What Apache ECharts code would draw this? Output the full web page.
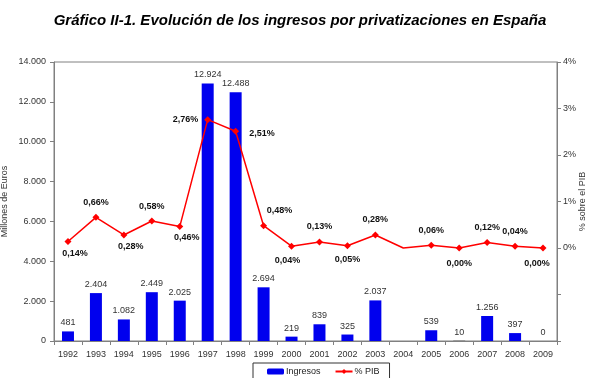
<!DOCTYPE html>
<html>
<head>
<meta charset="utf-8">
<script src="https://cdn.jsdelivr.net/npm/echarts@6/dist/echarts.min.js"></script>
<style>
html,body{margin:0;padding:0;background:#fff;}
#chart{width:600px;height:378px;}
</style>
</head>
<body>
<div id="chart"></div>
<script>
const years = ['1992','1993','1994','1995','1996','1997','1998','1999','2000','2001','2002','2003','2004','2005','2006','2007','2008','2009'];
const ingresos = [481, 2404, 1082, 2449, 2025, 12924, 12488, 2694, 219, 839, 325, 2037, null, 539, 10, 1256, 397, 0];
const pctPIB = [0.14, 0.66, 0.28, 0.58, 0.46, 2.76, 2.51, 0.48, 0.04, 0.13, 0.05, 0.28, 0.00, 0.06, 0.00, 0.12, 0.04, 0.00];
const pctLabelShown = [true,true,true,true,true,true,true,true,true,true,true,true,false,true,true,true,true,true];
const leftTicks = [0, 2000, 4000, 6000, 8000, 10000, 12000, 14000];
const rightTicks = [-2, -1, 0, 1, 2, 3, 4];

const fmtThousands = v => String(v).replace(/\B(?=(\d{3})+(?!\d))/g, '.');
const fmtPct = v => v.toFixed(2).replace('.', ',') + '%';

// label placement (layout only)
const labelLayout = [
  {position:'bottom', offset:[7,-2]},
  {position:'top', offset:[0,-1]},
  {position:'bottom', offset:[7,-2]},
  {position:'top', offset:[0,-1]},
  {position:'bottom', offset:[7,-3]},
  {position:'left', offset:[0,0]},
  {position:'right', offset:[4,2]},
  {position:'top', offset:[16,-1]},
  {position:'bottom', offset:[-4,0]},
  {position:'top', offset:[0,-1]},
  {position:'bottom', offset:[0,0]},
  {position:'top', offset:[0,-1]},
  {position:'top', offset:[0,0]},
  {position:'top', offset:[0,-1]},
  {position:'bottom', offset:[0,2]},
  {position:'top', offset:[0,-1]},
  {position:'top', offset:[0,-1]},
  {position:'bottom', offset:[-6,2]}
];

const lineData = pctPIB.map((v, i) => ({
  value: v,
  symbol: pctLabelShown[i] ? 'diamond' : 'none',
  label: {show: pctLabelShown[i], position: labelLayout[i].position, offset: labelLayout[i].offset}
}));

const barData = ingresos.map((v, i) => ({
  value: v,
  itemStyle: (v !== null && v < 50) ? {color: '#000000'} : undefined
}));

const chart = echarts.init(document.getElementById('chart'), null, {renderer: 'canvas'});
const axisColor = '#808080';
const font = 'Liberation Sans, Arial, sans-serif';

chart.setOption({
  animation: false,
  backgroundColor: '#ffffff',
  textStyle: {fontFamily: font},
  title: {
    text: 'Gráfico II-1. Evolución de los ingresos por privatizaciones en España',
    left: 'center',
    top: 8,
    textStyle: {fontFamily: font, fontSize: 15, fontWeight: 'bold', fontStyle: 'italic', color: '#000'}
  },
  grid: {left: 54, right: 43, top: 62, bottom: 37, show: true, borderColor: axisColor, borderWidth: 1,
         containLabel: false, outerBoundsMode: 'none'},
  legend: {
    left: 253, top: 363,
    itemWidth: 17, itemHeight: 6, itemGap: 14,
    padding: [4, 10, 6, 14],
    borderColor: '#333', borderWidth: 1,
    textStyle: {fontFamily: font, fontSize: 9, color: '#222', padding: [0, 0, 0, -3]},
    data: ['Ingresos', '% PIB']
  },
  xAxis: {
    type: 'category',
    data: years,
    axisLine: {lineStyle: {color: axisColor}},
    axisTick: {show: true, alignWithLabel: false, length: 4, lineStyle: {color: axisColor}},
    axisLabel: {fontSize: 9, color: '#333', margin: 9, interval: 0}
  },
  yAxis: [
    {
      type: 'value', min: leftTicks[0], max: leftTicks[leftTicks.length - 1], interval: leftTicks[1] - leftTicks[0],
      position: 'left',
      name: 'Millones de Euros', nameLocation: 'middle', nameGap: 45, nameRotate: 90, nameMoveOverlap: false,
      nameTextStyle: {fontSize: 9, color: '#333'},
      axisLine: {show: true, lineStyle: {color: axisColor}},
      axisTick: {show: true, length: 4, lineStyle: {color: axisColor}},
      splitLine: {show: false},
      axisLabel: {fontSize: 9, color: '#333', margin: 8, formatter: v => fmtThousands(v)}
    },
    {
      type: 'value', min: rightTicks[0], max: rightTicks[rightTicks.length - 1], interval: rightTicks[1] - rightTicks[0],
      position: 'right',
      name: '% sobre el PIB', nameLocation: 'middle', nameGap: 21, nameRotate: 90, nameMoveOverlap: false,
      nameTextStyle: {fontSize: 9, color: '#333'},
      axisLine: {show: true, lineStyle: {color: axisColor}},
      axisTick: {show: true, length: 4, lineStyle: {color: axisColor}},
      splitLine: {show: false},
      axisLabel: {fontSize: 9, color: '#333', margin: 6, formatter: v => v >= 0 ? v + '%' : ''}
    }
  ],
  series: [
    {
      name: 'Ingresos', type: 'bar', yAxisIndex: 0,
      data: barData,
      barWidth: 12,
      itemStyle: {color: '#0000EE'},
      label: {show: true, position: 'top', distance: 4, fontSize: 9, color: '#333', formatter: p => fmtThousands(p.value)}
    },
    {
      name: '% PIB', type: 'line', yAxisIndex: 1,
      data: lineData,
      symbol: 'diamond', symbolSize: 7,
      lineStyle: {color: '#FF0000', width: 1.5},
      itemStyle: {color: '#FF0000'},
      label: {show: true, fontSize: 9, fontWeight: 'bold', color: '#111', distance: 6, formatter: p => fmtPct(p.value)}
    }
  ]
});
</script>
</body>
</html>
